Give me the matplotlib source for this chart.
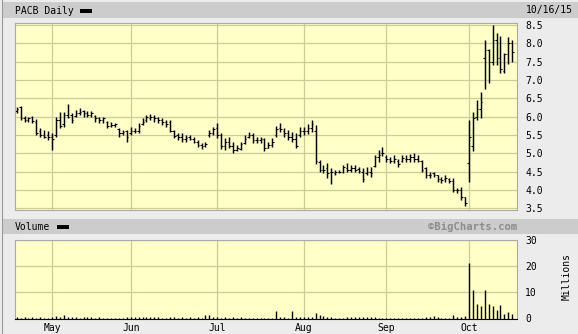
import numpy as np
import matplotlib
matplotlib.use('Agg')
import matplotlib.pyplot as plt
from matplotlib.patches import Rectangle

plt.rcParams['font.family'] = 'DejaVu Sans Mono'

# PACB daily bars, 20 Apr 2015 -> 16 Oct 2015 (one entry per trading day)
highs = [6.27, 6.30, 6.02, 6.00, 6.02, 5.93, 5.70, 5.64, 5.60, 5.55,
         6.00, 6.14, 6.14, 6.35, 6.09, 6.18, 6.23, 6.18, 6.16, 6.16,
         6.05, 6.00, 6.00, 5.89, 5.86, 5.84, 5.68, 5.64, 5.64, 5.73,
         5.68, 5.82, 5.95, 6.05, 6.07, 6.05, 6.00, 5.95, 5.91, 5.91,
         5.64, 5.55, 5.55, 5.50, 5.50, 5.45, 5.36, 5.27, 5.32, 5.64,
         5.73, 5.82, 5.55, 5.43, 5.45, 5.30, 5.23, 5.32, 5.50, 5.59,
         5.55, 5.45, 5.45, 5.41, 5.32, 5.41, 5.75, 5.84, 5.68, 5.64,
         5.59, 5.55, 5.73, 5.73, 5.80, 5.91, 5.77, 4.82, 4.68, 4.73,
         4.59, 4.55, 4.55, 4.68, 4.73, 4.68, 4.68, 4.64, 4.59, 4.64,
         4.64, 4.95, 5.09, 5.16, 4.95, 4.91, 4.95, 4.84, 4.95, 4.95,
         4.98, 5.00, 4.95, 4.82, 4.64, 4.50, 4.50, 4.41, 4.36, 4.41,
         4.32, 4.32, 4.05, 4.09, 3.82, 5.90, 6.14, 6.45, 6.68, 8.09,
         7.85, 8.50, 8.27, 8.20, 7.75, 8.17, 8.09]
lows = [6.09, 5.91, 5.86, 5.86, 5.82, 5.50, 5.45, 5.41, 5.36, 5.09,
        5.45, 5.68, 5.73, 5.95, 5.82, 6.00, 6.05, 6.00, 6.00, 6.00,
        5.86, 5.82, 5.82, 5.68, 5.73, 5.71, 5.45, 5.50, 5.32, 5.50,
        5.55, 5.55, 5.77, 5.86, 5.91, 5.86, 5.82, 5.77, 5.73, 5.59,
        5.41, 5.36, 5.32, 5.32, 5.36, 5.27, 5.18, 5.11, 5.18, 5.45,
        5.50, 5.43, 5.11, 5.09, 5.14, 5.00, 5.05, 5.09, 5.25, 5.41,
        5.27, 5.27, 5.27, 5.05, 5.14, 5.18, 5.45, 5.57, 5.45, 5.36,
        5.32, 5.14, 5.45, 5.50, 5.52, 5.57, 4.70, 4.50, 4.45, 4.33,
        4.16, 4.41, 4.45, 4.45, 4.50, 4.50, 4.50, 4.45, 4.23, 4.41,
        4.36, 4.62, 4.77, 4.93, 4.77, 4.73, 4.73, 4.62, 4.75, 4.75,
        4.77, 4.77, 4.77, 4.50, 4.32, 4.32, 4.36, 4.23, 4.18, 4.23,
        4.18, 3.95, 3.91, 3.73, 3.57, 4.23, 5.05, 5.91, 5.95, 6.75,
        6.93, 7.40, 7.40, 7.18, 7.18, 7.45, 7.50]
opens = [6.15, 6.25, 5.95, 5.90, 5.98, 5.85, 5.60, 5.50, 5.50, 5.45,
         5.50, 5.90, 5.80, 6.05, 6.05, 6.02, 6.10, 6.15, 6.10, 6.05,
         6.02, 5.95, 5.90, 5.85, 5.75, 5.78, 5.65, 5.55, 5.60, 5.55,
         5.60, 5.60, 5.80, 5.90, 5.95, 6.00, 5.95, 5.90, 5.85, 5.85,
         5.60, 5.50, 5.45, 5.38, 5.45, 5.40, 5.30, 5.22, 5.20, 5.50,
         5.55, 5.70, 5.50, 5.20, 5.30, 5.20, 5.10, 5.12, 5.28, 5.45,
         5.50, 5.35, 5.35, 5.38, 5.15, 5.22, 5.50, 5.70, 5.62, 5.55,
         5.45, 5.40, 5.50, 5.60, 5.60, 5.70, 5.60, 4.75, 4.55, 4.60,
         4.50, 4.45, 4.50, 4.50, 4.60, 4.55, 4.60, 4.58, 4.50, 4.45,
         4.50, 4.65, 4.90, 5.00, 4.90, 4.85, 4.80, 4.80, 4.80, 4.85,
         4.85, 4.90, 4.85, 4.80, 4.60, 4.40, 4.45, 4.40, 4.30, 4.30,
         4.30, 4.25, 4.00, 4.00, 3.80, 4.74, 5.20, 6.00, 6.20, 7.60,
         7.82, 7.50, 8.10, 7.60, 7.25, 7.70, 8.00]
closes = [6.20, 5.95, 5.90, 5.95, 5.88, 5.55, 5.50, 5.45, 5.45, 5.40,
          5.90, 5.75, 6.05, 6.00, 5.90, 6.10, 6.12, 6.10, 6.05, 6.10,
          5.95, 5.90, 5.95, 5.75, 5.78, 5.80, 5.55, 5.58, 5.45, 5.60,
          5.60, 5.75, 5.85, 5.98, 6.00, 5.95, 5.90, 5.85, 5.80, 5.62,
          5.48, 5.45, 5.40, 5.42, 5.40, 5.30, 5.22, 5.20, 5.25, 5.55,
          5.65, 5.50, 5.20, 5.30, 5.20, 5.10, 5.15, 5.25, 5.40, 5.50,
          5.35, 5.35, 5.40, 5.15, 5.22, 5.30, 5.65, 5.65, 5.55, 5.45,
          5.40, 5.20, 5.60, 5.62, 5.70, 5.80, 4.80, 4.55, 4.55, 4.45,
          4.50, 4.48, 4.50, 4.62, 4.55, 4.60, 4.55, 4.52, 4.30, 4.50,
          4.45, 4.90, 4.95, 5.00, 4.85, 4.80, 4.85, 4.70, 4.88, 4.85,
          4.90, 4.85, 4.80, 4.55, 4.40, 4.40, 4.42, 4.30, 4.28, 4.32,
          4.25, 4.00, 4.00, 3.80, 3.65, 5.45, 5.95, 6.20, 6.40, 7.82,
          7.50, 8.09, 7.60, 7.30, 7.70, 8.00, 7.77]
# volume, millions of shares
volumes = [0.5, 0.3, 0.5, 0.3, 0.5, 0.3, 0.5, 0.3, 0.2, 0.6,
           0.8, 0.5, 1.4, 0.6, 0.5, 0.6, 0.3, 0.5, 0.4, 0.6,
           0.3, 0.5, 0.3, 0.2, 0.2, 0.2, 0.2, 0.3, 0.5, 0.4,
           0.5, 0.5, 0.6, 0.5, 0.5, 0.4, 0.5, 0.3, 0.2, 0.5,
           0.5, 0.3, 0.5, 0.3, 0.5, 0.3, 0.5, 0.3, 1.2, 1.3,
           0.5, 0.6, 0.3, 0.5, 0.3, 0.5, 0.3, 0.5, 0.2, 0.2,
           0.2, 0.2, 0.2, 0.2, 0.2, 0.2, 2.9, 0.5, 0.5, 0.3,
           3.0, 0.5, 0.5, 0.5, 0.5, 0.6, 2.2, 1.2, 0.8, 0.7,
           0.5, 0.2, 0.2, 0.2, 0.5, 0.5, 0.5, 0.5, 0.5, 0.5,
           0.5, 0.5, 0.2, 0.2, 0.2, 0.2, 0.2, 0.2, 0.2, 0.2,
           0.2, 0.2, 0.2, 0.2, 0.5, 0.5, 0.8, 0.7, 0.2, 0.2,
           0.3, 1.3, 0.5, 0.5, 0.8, 21.4, 10.9, 5.5, 4.7, 10.9,
           5.5, 4.7, 3.2, 5.1, 1.7, 2.4, 1.7]

# first trading day of each month (bar index)
month_starts = [9, 29, 51, 73, 94, 115]
month_labels = ['May', 'Jun', 'Jul', 'Aug', 'Sep', 'Oct']

price_ticks = [3.5, 4.0, 4.5, 5.0, 5.5, 6.0, 6.5, 7.0, 7.5, 8.0, 8.5]
vol_ticks = [0, 10, 20, 30]

W, H = 578, 334
BG = '#ececec'
BAND = '#cccccc'
PLOT_BG = '#ffffc8'
GRID = '#cccc99'

fig = plt.figure(figsize=(W / 100, H / 100), dpi=100, facecolor=BG)


def fx(px):
    return px / W


def fy(py):
    return 1 - py / H


def rect(x0, y0, x1, y1, color):
    fig.add_artist(Rectangle((fx(x0), fy(y1)), (x1 - x0) / W, (y1 - y0) / H,
                             transform=fig.transFigure, facecolor=color,
                             edgecolor='none', zorder=0))


# header bands
rect(3, 2, W, 18, BAND)
rect(3, 219, W, 234, BAND)
fig.add_artist(plt.Line2D([fx(2), fx(2)], [0, 1], color='#999999', lw=0.8))

fig.text(fx(15), fy(10.5), 'PACB Daily', fontsize=7, va='center', ha='left')
rect(80, 9, 92, 12.5, 'black')
fig.text(fx(573), fy(10.5), '10/16/15', fontsize=7, va='center', ha='right')
fig.text(fx(15), fy(226.5), 'Volume', fontsize=7, va='center', ha='left')
rect(57, 225, 69, 228.5, 'black')
fig.text(fx(517), fy(226.5), '\u00a9BigCharts.com', fontsize=7.6,
         fontweight='bold', color='#8c8c8c', va='center', ha='right')

x = np.arange(len(highs))
xlim = (-0.43, 127.2)

# price panel
ax = fig.add_axes([fx(15), fy(209.5), (517 - 15) / W, (209.5 - 23) / H])
ax.set_facecolor(PLOT_BG)
ax.vlines(x, lows, highs, color='black', lw=1.05)
ax.hlines(opens, x - 0.4, x, color='black', lw=0.75)
ax.hlines(closes, x, x + 0.4, color='black', lw=0.75)
ax.set_xlim(*xlim)
ax.set_ylim(3.467, 8.555)
ax.set_xticks(month_starts)
ax.set_xticklabels([])
ax.set_yticks(price_ticks)
ax.set_yticklabels(['%.1f' % v for v in price_ticks])
ax.yaxis.tick_right()
ax.tick_params(length=0, labelsize=7, pad=6)
ax.set_axisbelow(True)
ax.grid(color=GRID, lw=0.9)
for s in ax.spines.values():
    s.set_color('#aaaaaa')
    s.set_linewidth(0.8)

# volume panel
av = fig.add_axes([fx(15), fy(318.5), (517 - 15) / W, (318.5 - 240) / H])
av.set_facecolor(PLOT_BG)
av.vlines(x, 0, volumes, color='black', lw=1.0)
av.set_xlim(*xlim)
av.set_ylim(0, 30)
av.set_xticks(month_starts)
av.set_xticklabels(month_labels)
av.set_yticks(vol_ticks)
av.yaxis.tick_right()
av.tick_params(length=0, labelsize=7, pad=6)
av.tick_params(axis='x', pad=3)
av.set_axisbelow(True)
av.grid(color=GRID, lw=0.9)
for s in av.spines.values():
    s.set_color('#aaaaaa')
    s.set_linewidth(0.8)
av.spines['bottom'].set_color('black')
fig.text(fx(567), fy(276), 'Millions', fontsize=7, rotation=90,
         va='center', ha='center')

fig.savefig('out.png', dpi=100, facecolor=BG)
